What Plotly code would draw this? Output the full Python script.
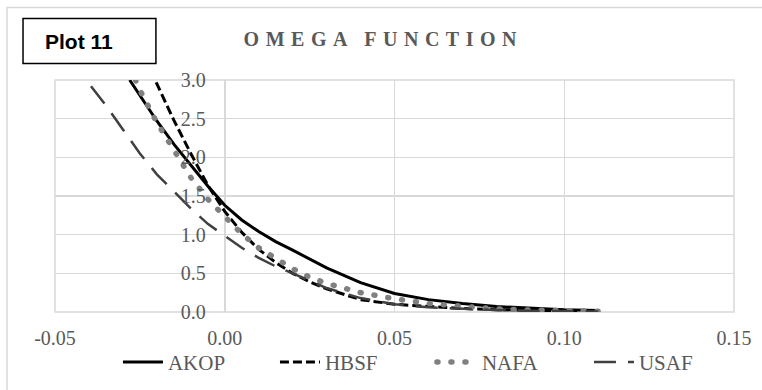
import plotly.graph_objects as go

# ---- data ----
akop_x = [-0.028, -0.02, -0.015, -0.01, -0.005, 0.0, 0.005, 0.01, 0.015, 0.02, 0.025, 0.03, 0.04, 0.05, 0.06, 0.07, 0.08, 0.09, 0.10, 0.11]
akop_y = [3.0, 2.47, 2.17, 1.90, 1.63, 1.38, 1.19, 1.04, 0.91, 0.80, 0.68, 0.57, 0.38, 0.24, 0.16, 0.11, 0.07, 0.05, 0.03, 0.02]

hbsf_x = [-0.0202, -0.015, -0.01, -0.005, 0.0, 0.005, 0.01, 0.015, 0.02, 0.025, 0.03, 0.035, 0.04, 0.05, 0.06, 0.07, 0.08, 0.09, 0.10, 0.11]
hbsf_y = [2.97, 2.48, 2.05, 1.64, 1.30, 1.03, 0.81, 0.64, 0.50, 0.39, 0.30, 0.23, 0.16, 0.10, 0.07, 0.045, 0.03, 0.02, 0.012, 0.008]

nafa_x = [-0.0263, -0.025, -0.02, -0.015, -0.01, -0.005, 0.0, 0.005, 0.01, 0.015, 0.02, 0.025, 0.03, 0.04, 0.05, 0.06, 0.07, 0.08, 0.09, 0.10, 0.11]
nafa_y = [3.0, 2.87, 2.45, 2.08, 1.74, 1.46, 1.23, 1.01, 0.83, 0.69, 0.56, 0.45, 0.37, 0.25, 0.17, 0.11, 0.07, 0.04, 0.025, 0.015, 0.01]

usaf_x = [-0.0394, -0.035, -0.03, -0.025, -0.02, -0.015, -0.01, -0.005, 0.0, 0.005, 0.01, 0.015, 0.02, 0.025, 0.03, 0.04, 0.05, 0.06, 0.07, 0.08, 0.09, 0.10, 0.11]
usaf_y = [2.92, 2.67, 2.36, 2.05, 1.78, 1.56, 1.34, 1.14, 0.98, 0.83, 0.70, 0.59, 0.50, 0.40, 0.31, 0.18, 0.10, 0.06, 0.04, 0.025, 0.015, 0.01, 0.005]

series_names = ["AKOP", "HBSF", "NAFA", "USAF"]
x_ticks = [-0.05, 0.0, 0.05, 0.10, 0.15]
y_ticks = [0.0, 0.5, 1.0, 1.5, 2.0, 2.5, 3.0]
title_text = "OMEGA FUNCTION"
box_text = "Plot 11"

# ---- figure ----
SERIF = "Liberation Serif, Times New Roman, serif"
GRAY = "#595959"
GRID = "#d9d9d9"

W, H = 762, 390
L, R, T, B = 55, 27.5, 79.5, 78.3
pw, ph = W - L - R, H - T - B

def px_x(p):
    return (p - L) / pw

def px_y(p):
    return (H - B - p) / ph

fig = go.Figure()
fig.add_trace(go.Scatter(x=akop_x, y=akop_y, name=series_names[0], mode="lines",
                         line=dict(color="#000000", width=3)))
fig.add_trace(go.Scatter(x=hbsf_x, y=hbsf_y, name=series_names[1], mode="lines",
                         line=dict(color="#000000", width=3, dash="9px,4px")))
fig.add_trace(go.Scatter(x=nafa_x, y=nafa_y, name=series_names[2], mode="lines",
                         line=dict(color="#808080", width=5.5, dash="1px,13px")))
fig.add_trace(go.Scatter(x=usaf_x, y=usaf_y, name=series_names[3], mode="lines",
                         line=dict(color="#404040", width=2.5, dash="22px,12px")))

xpos0 = (0 - x_ticks[0]) / (x_ticks[-1] - x_ticks[0])

fig.update_layout(
    width=W, height=H,
    margin=dict(l=L, r=R, t=T, b=B, autoexpand=False),
    paper_bgcolor="white", plot_bgcolor="white",
    showlegend=True,
    hovermode=False,
    title=dict(text="<b>" + title_text + "</b>", x=0.503, xanchor="center",
               y=1 - 38.5 / H, yanchor="middle",
               font=dict(family=SERIF, size=20, color=GRAY)),
    xaxis=dict(range=[x_ticks[0], x_ticks[-1]], tickvals=x_ticks,
               ticktext=["%.2f" % v for v in x_ticks],
               showgrid=True, gridcolor=GRID, gridwidth=1.5,
               zeroline=False, showline=False, ticks="",
               ticklabelstandoff=12,
               tickfont=dict(family=SERIF, size=20, color=GRAY)),
    yaxis=dict(range=[y_ticks[0], y_ticks[-1]], tickvals=y_ticks,
               ticktext=["%.1f" % v for v in y_ticks],
               showgrid=True, gridcolor=GRID, gridwidth=1.5,
               zeroline=False, showline=False, ticks="",
               anchor="free", position=xpos0, ticklabelstandoff=19,
               tickfont=dict(family=SERIF, size=20, color=GRAY)),
    legend=dict(orientation="h", x=px_x(118), xanchor="left",
                y=px_y(362), yanchor="middle",
                font=dict(family=SERIF, size=21, color=GRAY),
                bgcolor="rgba(0,0,0,0)", itemwidth=40, tracegroupgap=0,
                entrywidth=102, entrywidthmode="pixels"),
    shapes=[
        dict(type="rect", xref="paper", yref="paper",
             x0=px_x(7), x1=px_x(775), y0=px_y(400), y1=px_y(7),
             line=dict(color=GRID, width=1.5), fillcolor="rgba(0,0,0,0)", layer="below"),
        dict(type="rect", xref="x domain", yref="y domain", x0=0, x1=1, y0=0, y1=1,
             line=dict(color=GRID, width=1.5), fillcolor="rgba(0,0,0,0)", layer="below"),
        dict(type="rect", xref="paper", yref="paper",
             x0=px_x(23), x1=px_x(156), y0=px_y(63), y1=px_y(18),
             line=dict(color="#000000", width=1.5), fillcolor="white", layer="above"),
    ],
    annotations=[
        dict(text="<b>" + box_text + "</b>", xref="paper", yref="paper",
             x=px_x(43), xanchor="left", y=px_y(41), yanchor="middle",
             showarrow=False,
             font=dict(family="Liberation Sans, Arial, sans-serif", size=21, color="#000000")),
    ],
)

post = """
document.body.style.margin = '0';
document.body.style.overflow = 'hidden';
var gd = document.getElementsByClassName('plotly-graph-div')[0];
function tweak(){
  var t = gd.querySelector('.gtitle');
  if (t) { t.style.letterSpacing = '6.5px'; }
  var tr = gd.querySelectorAll('.scatterlayer .trace');
  if (tr.length > 2) { tr[2].querySelectorAll('path.js-line').forEach(function(p){ p.style.strokeLinecap = 'round'; }); }
  var lg = gd.querySelectorAll('.legend .traces');
  if (lg.length > 2) { lg[2].querySelectorAll('path.js-line').forEach(function(p){ p.style.strokeLinecap = 'round'; }); }
}
tweak();
gd.on('plotly_afterplot', tweak);
"""

fig.write_html("out.html", config={"displayModeBar": False, "staticPlot": True}, post_script=post)
